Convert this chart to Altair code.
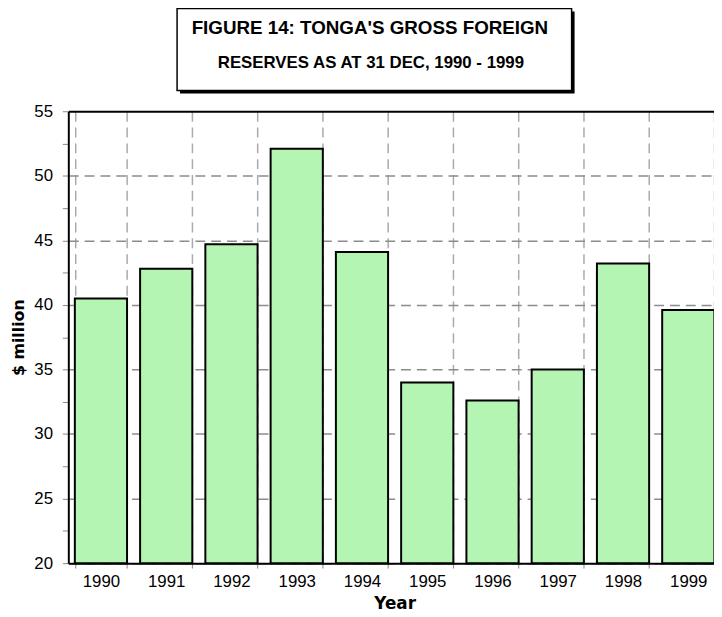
import altair as alt
import pandas as pd

years = ["1990", "1991", "1992", "1993", "1994", "1995", "1996", "1997", "1998", "1999"]
reserves = [40.5, 42.8, 44.7, 52.1, 44.1, 34.0, 32.6, 35.0, 43.2, 39.6]
y_ticks = [20, 22.5, 25, 27.5, 30, 32.5, 35, 37.5, 40, 42.5, 45, 47.5, 50, 52.5, 55]
title_lines = ["FIGURE 14: TONGA'S GROSS FOREIGN", "RESERVES AS AT 31 DEC, 1990 - 1999"]

df = pd.DataFrame({"Year": years, "Reserves": reserves})
one = pd.DataFrame({"k": [0]})

bars = alt.Chart(df).mark_bar(fill="#b4f5b4", stroke="black", strokeWidth=2).encode(
    x=alt.X(
        "Year:N", sort=None,
        scale=alt.Scale(range=[0, 660], paddingInner=0.2, paddingOuter=0.1),
        axis=alt.Axis(
            title="Year", labelAngle=0, tickBand="extent", grid=True,
            gridColor="#aaaaaa", gridDash=[10, 6], gridWidth=1.5,
            domainColor="black", domainWidth=2, tickColor="#888888", tickSize=5,
            labelPadding=6, labelFont="Liberation Sans", labelFontSize=17, labelColor="black",
            titleFont="DejaVu Sans", titleFontWeight="bold", titleFontSize=17,
            titleColor="black", titlePadding=6,
        ),
    ),
    y=alt.Y(
        "Reserves:Q",
        scale=alt.Scale(domain=[20, 55], zero=False, nice=False),
        axis=alt.Axis(
            title="$ million", values=y_ticks,
            labelExpr="datum.value % 5 === 0 ? datum.label : ''",
            grid=True,
            gridOpacity={"condition": {"test": "datum.value % 5 !== 0", "value": 0}, "value": 1},
            gridDash={"condition": {"test": "datum.value === 55", "value": []}, "value": [10, 6]},
            gridColor={"condition": {"test": "datum.value === 55", "value": "black"}, "value": "#8c8c8c"},
            gridWidth={"condition": {"test": "datum.value === 55", "value": 2}, "value": 1.5},
            domainColor="black", domainWidth=2, tickColor="#888888", tickSize=6,
            labelPadding=10, labelFont="Liberation Sans", labelFontSize=17, labelColor="black",
            titleFont="DejaVu Sans", titleFontWeight="bold", titleFontSize=16,
            titleColor="black", titlePadding=7,
        ),
    ),
    y2=alt.datum(20),
)

shadow = alt.Chart(one).mark_rect(fill="black").encode(
    x=alt.value(113), x2=alt.value(512), y=alt.value(-101), y2=alt.value(-18)
)
box = alt.Chart(one).mark_rect(fill="white", stroke="black", strokeWidth=1.5).encode(
    x=alt.value(110), x2=alt.value(509), y=alt.value(-104), y2=alt.value(-21)
)
t1 = alt.Chart(one).mark_text(
    text=title_lines[0], font="Liberation Sans", fontWeight="bold", fontSize=19,
    align="center", baseline="alphabetic", color="black",
).encode(x=alt.value(305), y=alt.value(-78))
t2 = alt.Chart(one).mark_text(
    text=title_lines[1], font="Liberation Sans", fontWeight="bold", fontSize=17,
    align="center", baseline="alphabetic", color="black",
).encode(x=alt.value(306), y=alt.value(-44))

chart = alt.layer(bars, shadow, box, t1, t2).properties(
    width=653, height=457,
    autosize=alt.AutoSizeParams(type="none"),
    padding={"left": 61, "top": 101, "right": 0, "bottom": 48},
    background="white",
).configure_view(stroke=None)

chart.save("out.html", embed_options={"renderer": "svg", "actions": False})
